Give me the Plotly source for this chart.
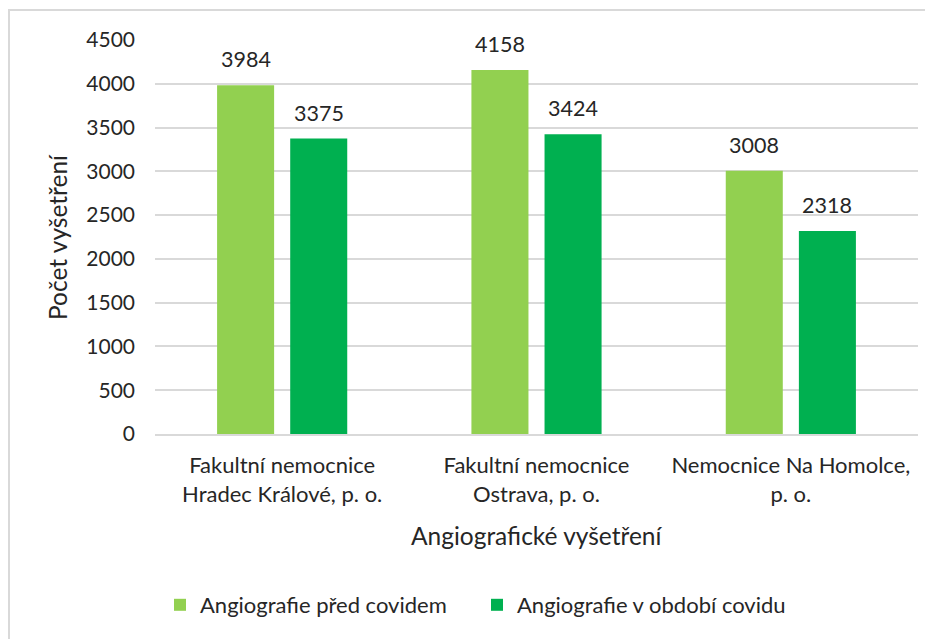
import plotly.graph_objects as go

categories = ["Fakultní nemocnice<br>Hradec Králové, p. o.",
              "Fakultní nemocnice<br>Ostrava, p. o.",
              "Nemocnice Na Homolce,<br>p. o."]
cat_keys = ["FN HK", "FN Ostrava", "Na Homolce"]
series_names = ["Angiografie před covidem", "Angiografie v období covidu"]
before_covid = [3984, 4158, 3008]
during_covid = [3375, 3424, 2318]
y_ticks = [0, 500, 1000, 1500, 2000, 2500, 3000, 3500, 4000, 4500]

colors = ["#92D050", "#00B050"]
FONT = "Lato"
TXT = "#262626"

# page offset (body margin) in screenshot
OFF = 8
W, H = 933, 639
L, R, T, B = 155 - OFF, 933 - 918 + OFF, 40 - OFF, 639 - 434 + OFF
pw, ph = W - L - R, H - T - B


def px_x(p):  # screen pixel -> paper x
    return (p - OFF - L) / pw


def px_y(p):  # screen pixel -> paper y
    return (T + ph - (p - OFF)) / ph


fig = go.Figure()
for name, vals, col in zip(series_names, [before_covid, during_covid], colors):
    fig.add_trace(go.Bar(x=cat_keys, y=vals, name=name, marker_color=col,
                         marker_line_width=0))

# data labels
offsets = [-36.5, 36.5]
for vals, off in zip([before_covid, during_covid], offsets):
    for k, v in zip(cat_keys, vals):
        fig.add_annotation(x=k, y=v, text=str(v), showarrow=False,
                           xshift=off, yshift=11, yanchor="bottom",
                           font=dict(family=FONT, size=21.5, color=TXT))

# axis titles
fig.add_annotation(xref="paper", yref="paper", x=px_x(537), y=px_y(535),
                   text="Angiografické vyšetření", showarrow=False,
                   xanchor="center", yanchor="middle",
                   font=dict(family=FONT, size=24.5, color=TXT))
fig.add_annotation(xref="paper", yref="paper", x=px_x(57), y=px_y(237),
                   text="Počet vyšetření", showarrow=False, textangle=-90,
                   xanchor="center", yanchor="middle",
                   font=dict(family=FONT, size=24.5, color=TXT))

# outer border
fig.add_shape(type="rect", xref="paper", yref="paper",
              x0=px_x(9), x1=px_x(960), y0=px_y(680), y1=px_y(10),
              line=dict(color="#D9D9D9", width=2), layer="below")

fig.update_layout(
    width=W, height=H,
    margin=dict(l=L, r=R, t=T, b=B),
    paper_bgcolor="white", plot_bgcolor="white",
    barmode="group", bargap=0.425, bargroupgap=0.22,
    font=dict(family=FONT, size=21, color=TXT),
    showlegend=True,
    legend=dict(orientation="h", x=px_x(160), xanchor="left", y=px_y(605),
                yanchor="middle", font=dict(family=FONT, size=22, color=TXT),
                entrywidth=272, entrywidthmode="pixels"),
    xaxis=dict(tickmode="array", tickvals=cat_keys, ticktext=categories,
               showline=True, linecolor="#D9D9D9", linewidth=1.5,
               ticks="", showgrid=False, ticklabelstandoff=11,
               tickfont=dict(family=FONT, size=22, color=TXT)),
    yaxis=dict(range=[0, 4500], tickvals=y_ticks, showgrid=True,
               gridcolor="#D9D9D9", gridwidth=1.5, zeroline=False,
               ticks="", ticklabelstandoff=19,
               tickfont=dict(family=FONT, size=21, color=TXT)),
)

fig.write_html("out.html")
